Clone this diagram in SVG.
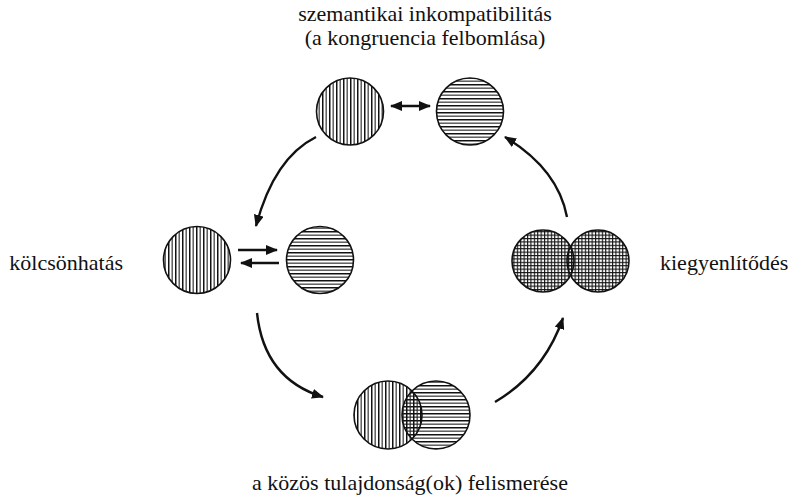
<svg xmlns="http://www.w3.org/2000/svg" width="795" height="498" viewBox="0 0 795 498">
  <style>
    .disc { fill: #fff; }
    .rim { fill: none; stroke: #111; stroke-width: 1.6; }
    .conn { fill: none; stroke: #111; stroke-width: 2.4; }
  </style>
  <defs>
    <pattern id="vstripe" patternUnits="userSpaceOnUse" width="7" height="7">
      <rect x="0" y="0" width="1.5" height="7" fill="#111"/>
      <rect x="3.6" y="0" width="1.1" height="7" fill="#222"/>
    </pattern>
    <pattern id="hstripe" patternUnits="userSpaceOnUse" width="7" height="7">
      <rect x="0" y="0" width="7" height="1.5" fill="#111"/>
      <rect x="0" y="3.6" width="7" height="1.1" fill="#222"/>
    </pattern>
    <pattern id="grid" patternUnits="userSpaceOnUse" width="3.4" height="3.4">
      <rect x="0" y="0" width="1.1" height="3.4" fill="#111"/>
      <rect x="0" y="0" width="3.4" height="1.1" fill="#111"/>
    </pattern>
    <marker id="head" viewBox="0 0 12 10" refX="11" refY="5" markerWidth="12" markerHeight="10" markerUnits="userSpaceOnUse" orient="auto-start-reverse">
      <path d="M0,0 L12,5 L0,10 Z" fill="#111"/>
    </marker>
  </defs>

  <rect width="795" height="498" fill="#fff"/>

  <!-- stage labels -->
  <g font-family="'Liberation Serif', Tinos, 'DejaVu Serif', 'Times New Roman', serif" font-size="22" fill="#111">
    <g id="label-top">
      <text x="425" y="21" text-anchor="middle">szemantikai inkompatibilitás</text>
      <text x="425" y="45" text-anchor="middle">(a kongruencia felbomlása)</text>
    </g>
    <g id="label-left">
      <text x="123" y="270" text-anchor="end">kölcsönhatás</text>
    </g>
    <g id="label-right">
      <text x="660" y="270">kiegyenlítődés</text>
    </g>
    <g id="label-bottom">
      <text x="410" y="490" text-anchor="middle">a közös tulajdonság(ok) felismerése</text>
    </g>
  </g>

  <!-- top: two separate concepts -->
  <g id="node-top">
    <circle class="disc" cx="350" cy="111.5" r="33.5"/>
    <circle cx="350" cy="111.5" r="33.5" fill="url(#vstripe)"/>
    <circle class="rim" cx="350" cy="111.5" r="33.5"/>
    <circle class="disc" cx="470" cy="111.5" r="33.5"/>
    <circle cx="470" cy="111.5" r="33.5" fill="url(#hstripe)"/>
    <circle class="rim" cx="470" cy="111.5" r="33.5"/>
  </g>

  <!-- left: interaction -->
  <g id="node-left">
    <circle class="disc" cx="197" cy="260" r="33.5"/>
    <circle cx="197" cy="260" r="33.5" fill="url(#vstripe)"/>
    <circle class="rim" cx="197" cy="260" r="33.5"/>
    <circle class="disc" cx="320" cy="260" r="33.5"/>
    <circle cx="320" cy="260" r="33.5" fill="url(#hstripe)"/>
    <circle class="rim" cx="320" cy="260" r="33.5"/>
  </g>

  <!-- bottom: overlapping concepts -->
  <g id="node-bottom">
    <circle class="disc" cx="436" cy="415" r="34"/>
    <circle class="disc" cx="388" cy="415" r="34"/>
    <circle cx="436" cy="415" r="34" fill="url(#hstripe)"/>
    <circle cx="388" cy="415" r="34" fill="url(#vstripe)"/>
    <circle class="rim" cx="436" cy="415" r="34"/>
    <circle class="rim" cx="388" cy="415" r="34"/>
  </g>

  <!-- right: balanced concepts -->
  <g id="node-right">
    <circle class="disc" cx="598" cy="261" r="31"/>
    <circle class="disc" cx="543" cy="261" r="31"/>
    <circle cx="598" cy="261" r="31" fill="url(#grid)"/>
    <circle cx="543" cy="261" r="31" fill="url(#grid)"/>
    <circle class="rim" cx="598" cy="261" r="31"/>
    <circle class="rim" cx="543" cy="261" r="31"/>
  </g>

  <!-- connectors -->
  <g id="connectors">
    <line class="conn" x1="391" y1="106" x2="430" y2="106" marker-start="url(#head)" marker-end="url(#head)"/>
    <line class="conn" x1="238" y1="250" x2="277" y2="250" marker-end="url(#head)"/>
    <line class="conn" x1="279" y1="263" x2="241" y2="263" marker-end="url(#head)"/>
    <path class="conn" d="M316,137 Q274,158 256,226" marker-end="url(#head)"/>
    <path class="conn" d="M257,313 Q264,379 323,397" marker-end="url(#head)"/>
    <path class="conn" d="M495,402 Q544,373 563,318" marker-end="url(#head)"/>
    <path class="conn" d="M567,217 Q558,169 505,137" marker-end="url(#head)"/>
  </g>
</svg>
